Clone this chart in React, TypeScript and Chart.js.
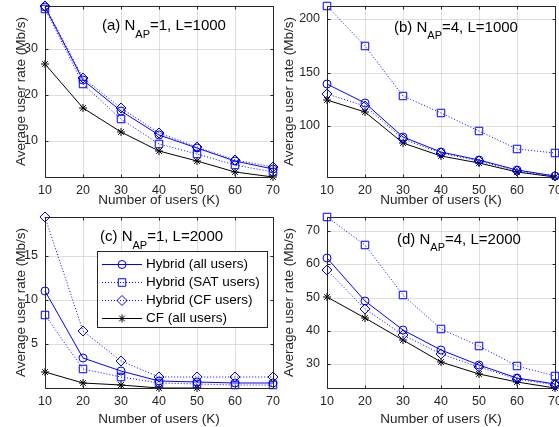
import React, { useEffect, useRef } from 'react';
import { Chart, registerables } from 'chart.js';

Chart.register(...registerables);

// ---------- data ----------
const K = [10, 20, 30, 40, 50, 60, 70];
const seriesNames = ['Hybrid (all users)', 'Hybrid (SAT users)', 'Hybrid (CF users)', 'CF (all users)'];

// (a) N_AP=1, L=1000
const aHybridAll = [39.2, 23.3, 16.5, 11.2, 8.5, 5.6, 4.0];
const aHybridSAT = [38.8, 22.3, 14.8, 9.3, 7.2, 4.7, 3.3];
const aHybridCF = [39.35, 23.8, 17.1, 11.8, 8.8, 5.9, 4.4];
const aCFAll = [26.8, 17.2, 11.9, 7.8, 5.7, 3.3, 2.17];
const aYTicks = [10, 20, 30];

// (b) N_AP=4, L=1000
const bHybridAll = [139.6, 122, 89.9, 75.8, 68.6, 59.2, 53.8];
const bHybridSAT = [212.5, 174.8, 128.6, 112, 95.3, 78.3, 74.8];
const bHybridCF = [129.9, 118.9, 88.4, 74.8, 67.9, 58.5, 53.1];
const bCFAll = [124.5, 113.5, 84.6, 72.6, 65.4, 56.9, 52.5];
const bYTicks = [100, 150, 200];

// (c) N_AP=1, L=2000
const cHybridAll = [11.0, 3.4, 2.0, 0.85, 0.75, 0.6, 0.6];
const cHybridSAT = [8.3, 2.25, 1.3, 0.6, 0.55, 0.45, 0.45];
const cHybridCF = [19.35, 6.5, 3.1, 1.35, 1.3, 1.3, 1.3];
const cCFAll = [1.9, 0.65, 0.38, 0.1, 0.07, null, null];
const cYTicks = [5, 10, 15];

// (d) N_AP=4, L=2000
const dHybridAll = [61.9, 48.9, 40.2, 34.4, 29.7, 26.0, 24.0];
const dHybridSAT = [74.2, 65.7, 50.7, 40.5, 35.5, 29.4, 26.5];
const dHybridCF = [58.2, 46.7, 38.7, 33.2, 29.2, 25.7, 23.7];
const dCFAll = [50.2, 43.9, 37.2, 30.7, 27.0, 24.7, 22.9];
const dYTicks = [30, 40, 50, 60, 70];

const panelLetters = ['a', 'b', 'c', 'd'];
const panelNAP = [1, 4, 1, 4];
const panelL = [1000, 1000, 2000, 2000];

const xLabel = 'Number of users (K)';
const yLabel = 'Average user rate (Mb/s)';

// ---------- style / layout ----------
const FONT = '"Liberation Sans", Arial, Helvetica, sans-serif';
const BLUE = 'rgb(0,0,255)';
const BLACK = 'rgb(0,0,0)';
const AX = '#262626';
const GRID = 'rgba(38,38,38,0.15)';
const OFF = 50;
const PAGE_W = 559;
const PAGE_H = 427;
const CW = PAGE_W + 2 * OFF;
const CH = PAGE_H + 2 * OFF;
const YW = 40;
const XH = 25;

const styles = [
  { color: BLUE, dash: [] as number[], point: 'circle', r: 4 },
  { color: BLUE, dash: [1, 2], point: 'rect', r: 5.3 },
  { color: BLUE, dash: [1, 2], point: 'rectRot', r: 5 },
  { color: BLACK, dash: [] as number[], point: 'star', r: 4 },
];

type Panel = {
  series: (number | null)[][];
  yTicks: number[];
  yMin: number;
  yMax: number;
  l: number; t: number; r: number; b: number;
  ylabelX: number;
  xlabelY: number;
  titleX: number;
  titleY: number;
  legend: boolean;
};

const panels: Panel[] = [
  { series: [aHybridAll, aHybridSAT, aHybridCF, aCFAll], yTicks: aYTicks, yMin: 2.17, yMax: 39.35,
    l: 45, t: 6, r: 273, b: 177, ylabelX: 21, xlabelY: 200, titleX: 102, titleY: 30, legend: false },
  { series: [bHybridAll, bHybridSAT, bHybridCF, bCFAll], yTicks: bYTicks, yMin: 52.5, yMax: 212.5,
    l: 327, t: 6, r: 555, b: 177, ylabelX: 289, xlabelY: 200, titleX: 394, titleY: 31.5, legend: false },
  { series: [cHybridAll, cHybridSAT, cHybridCF, cCFAll], yTicks: cYTicks, yMin: 0.07, yMax: 19.35,
    l: 45, t: 217, r: 273, b: 388, ylabelX: 21, xlabelY: 419, titleX: 100, titleY: 241, legend: true },
  { series: [dHybridAll, dHybridSAT, dHybridCF, dCFAll], yTicks: dYTicks, yMin: 22.9, yMax: 74.2,
    l: 327, t: 217, r: 555, b: 388, ylabelX: 289, xlabelY: 419, titleX: 397, titleY: 243.5, legend: false },
];

const al = (v: number) => Math.round(v - 0.5) + 0.5;

function drawMarker(ctx: CanvasRenderingContext2D, style: string, x: number, y: number, r: number) {
  ctx.beginPath();
  if (style === 'circle') {
    ctx.arc(x, y, r, 0, Math.PI * 2);
  } else if (style === 'rect') {
    const s = r * Math.SQRT1_2;
    ctx.rect(x - s, y - s, 2 * s, 2 * s);
  } else if (style === 'rectRot') {
    ctx.moveTo(x - r, y);
    ctx.lineTo(x, y - r);
    ctx.lineTo(x + r, y);
    ctx.lineTo(x, y + r);
    ctx.closePath();
  } else {
    ctx.moveTo(x - r, y); ctx.lineTo(x + r, y);
    ctx.moveTo(x, y - r); ctx.lineTo(x, y + r);
    const d = r * Math.SQRT1_2;
    ctx.moveTo(x - d, y - d); ctx.lineTo(x + d, y + d);
    ctx.moveTo(x - d, y + d); ctx.lineTo(x + d, y - d);
  }
  ctx.stroke();
}

function makeChart(canvas: HTMLCanvasElement, p: Panel, idx: number) {
  const datasets = p.series.map((vals, i) => ({
    label: seriesNames[i],
    data: K.map((k, j) => ({ x: k, y: vals[j] })),
    borderColor: styles[i].color,
    borderWidth: 1,
    borderDash: styles[i].dash,
    pointStyle: styles[i].point,
    pointRadius: styles[i].r,
    pointBorderColor: styles[i].color,
    pointBackgroundColor: 'rgba(0,0,0,0)',
    pointBorderWidth: 1,
    tension: 0,
    fill: false,
    clip: false as any,
    spanGaps: false,
  }));

  const overlay = {
    id: 'overlay' + idx,
    afterDraw(chart: any) {
      const ctx: CanvasRenderingContext2D = chart.ctx;
      const ca = chart.chartArea;
      const xs = chart.scales.x;
      const ys = chart.scales.y;
      ctx.save();
      // box
      const L = al(ca.left), R = al(ca.right), T = al(ca.top), B = al(ca.bottom);
      ctx.strokeStyle = AX;
      ctx.lineWidth = 1;
      ctx.setLineDash([]);
      ctx.beginPath();
      ctx.rect(L, T, R - L, B - T);
      ctx.stroke();
      // inward ticks
      ctx.beginPath();
      const tl = 3;
      K.forEach((k) => {
        const px = al(xs.getPixelForValue(k));
        ctx.moveTo(px, B); ctx.lineTo(px, B - tl);
        ctx.moveTo(px, T); ctx.lineTo(px, T + tl);
      });
      p.yTicks.forEach((v) => {
        const py = al(ys.getPixelForValue(v));
        ctx.moveTo(L, py); ctx.lineTo(L + tl, py);
        ctx.moveTo(R, py); ctx.lineTo(R - tl, py);
      });
      ctx.stroke();

      ctx.translate(OFF, OFF);
      // axis labels
      ctx.fillStyle = AX;
      ctx.font = `13.5px ${FONT}`;
      ctx.textAlign = 'center';
      ctx.textBaseline = 'middle';
      ctx.fillText(xLabel, (p.l + p.r) / 2, p.xlabelY);
      ctx.save();
      ctx.translate(p.ylabelX, (p.t + p.b) / 2);
      ctx.rotate(-Math.PI / 2);
      ctx.fillText(yLabel, 0, 0);
      ctx.restore();

      // panel title
      ctx.fillStyle = '#000';
      ctx.textAlign = 'left';
      ctx.textBaseline = 'alphabetic';
      const part1 = `(${panelLetters[idx]}) N`;
      const part2 = 'AP';
      const part3 = `=${panelNAP[idx]}, L=${panelL[idx]}`;
      ctx.font = `15px ${FONT}`;
      ctx.fillText(part1, p.titleX, p.titleY);
      let x = p.titleX + ctx.measureText(part1).width;
      ctx.font = `11px ${FONT}`;
      ctx.fillText(part2, x, p.titleY + 7.5);
      x += ctx.measureText(part2).width;
      ctx.font = `15px ${FONT}`;
      ctx.fillText(part3, x, p.titleY);

      // legend
      if (p.legend) {
        const lx0 = 97.5, ly0 = 251.5, lx1 = 267.5, ly1 = 327.5;
        ctx.fillStyle = '#fff';
        ctx.fillRect(lx0, ly0, lx1 - lx0, ly1 - ly0);
        ctx.strokeStyle = AX;
        ctx.lineWidth = 1;
        ctx.strokeRect(lx0, ly0, lx1 - lx0, ly1 - ly0);
        seriesNames.forEach((name, i) => {
          const y = 264 + i * 18;
          const st = styles[i];
          ctx.strokeStyle = st.color;
          ctx.lineWidth = 1;
          ctx.setLineDash(st.dash);
          ctx.beginPath();
          ctx.moveTo(102, y + 0.5);
          ctx.lineTo(142, y + 0.5);
          ctx.stroke();
          ctx.setLineDash([]);
          drawMarker(ctx, st.point, 122, y + 0.5, st.r);
          ctx.fillStyle = '#000';
          ctx.font = `13.5px ${FONT}`;
          ctx.textAlign = 'left';
          ctx.textBaseline = 'middle';
          ctx.fillText(name, 146, y + 0.5);
        });
      }
      ctx.restore();
    },
  };

  return new Chart(canvas, {
    type: 'line',
    data: { datasets: datasets as any },
    options: {
      responsive: false,
      animation: false,
      devicePixelRatio: 1,
      events: [],
      layout: {
        padding: {
          left: p.l + OFF - YW,
          top: p.t + OFF,
          right: CW - (p.r + OFF),
          bottom: CH - (p.b + OFF) - XH,
        },
      },
      plugins: {
        legend: { display: false },
        tooltip: { enabled: false },
        title: { display: false },
      },
      scales: {
        x: {
          type: 'linear',
          min: 10,
          max: 70,
          alignToPixels: true,
          afterBuildTicks: (s: any) => { s.ticks = K.map((v) => ({ value: v })); },
          afterFit: (s: any) => { s.height = XH; },
          grid: { color: GRID, lineWidth: 1, drawTicks: false },
          border: { display: false },
          ticks: {
            color: AX,
            font: { family: FONT, size: 12.5 },
            padding: 6,
            maxRotation: 0,
            autoSkip: false,
            callback: (v: any) => String(v),
          },
        },
        y: {
          type: 'linear',
          min: p.yMin,
          max: p.yMax,
          alignToPixels: true,
          afterBuildTicks: (s: any) => { s.ticks = p.yTicks.map((v) => ({ value: v })); },
          afterFit: (s: any) => { s.width = YW; },
          grid: { color: GRID, lineWidth: 1, drawTicks: false },
          border: { display: false },
          ticks: {
            color: AX,
            font: { family: FONT, size: 12.5 },
            padding: 7,
            autoSkip: false,
            callback: (v: any) => String(v),
          },
        },
      },
    } as any,
    plugins: [overlay],
  });
}

export default function App() {
  const r0 = useRef<HTMLCanvasElement>(null);
  const r1 = useRef<HTMLCanvasElement>(null);
  const r2 = useRef<HTMLCanvasElement>(null);
  const r3 = useRef<HTMLCanvasElement>(null);
  const refs = [r0, r1, r2, r3];

  useEffect(() => {
    const charts = panels.map((p, i) => makeChart(refs[i].current as HTMLCanvasElement, p, i));
    return () => charts.forEach((c) => c.destroy());
  }, []);

  return (
    <div
      style={{
        position: 'absolute',
        left: 0,
        top: 0,
        width: PAGE_W,
        height: PAGE_H,
        overflow: 'hidden',
        background: '#fff',
      }}
    >
      {panels.map((_, i) => (
        <canvas
          key={i}
          ref={refs[i]}
          width={CW}
          height={CH}
          style={{ position: 'absolute', left: -OFF, top: -OFF, width: CW, height: CH }}
        />
      ))}
    </div>
  );
}
